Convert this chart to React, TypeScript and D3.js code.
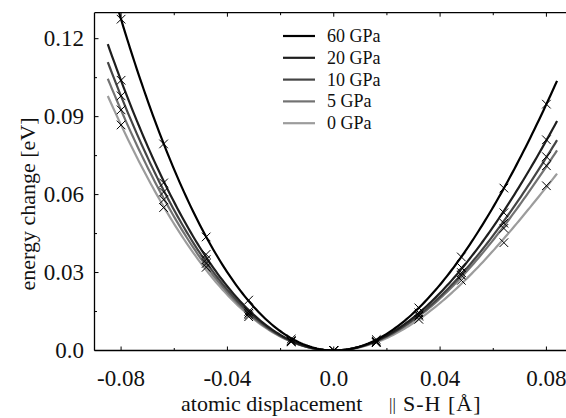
import React from "react";
import * as d3 from "d3";

const displacements = [-0.08, -0.064, -0.048, -0.032, -0.016, 0, 0.016, 0.032, 0.048, 0.064, 0.08];
const seriesNames = ["60 GPa", "20 GPa", "10 GPa", "5 GPa", "0 GPa"];
const e60 = [0.1275, 0.0795, 0.0437, 0.0194, 0.0044, 0, 0.0042, 0.0164, 0.036, 0.0625, 0.0948];
const e20 = [0.104, 0.0645, 0.037, 0.015, 0.0038, 0, 0.0036, 0.0145, 0.032, 0.053, 0.0811];
const e10 = [0.098, 0.061, 0.035, 0.0143, 0.0036, 0, 0.0034, 0.0137, 0.03, 0.049, 0.0746];
const e5 = [0.0926, 0.058, 0.0335, 0.0137, 0.0035, 0, 0.0032, 0.0132, 0.029, 0.047, 0.0711];
const e0 = [0.0868, 0.055, 0.032, 0.013, 0.0033, 0, 0.003, 0.012, 0.027, 0.0415, 0.0634];
const seriesValues = [e60, e20, e10, e5, e0];
const seriesColors = ["#000000", "#1e1e1e", "#454545", "#727272", "#9c9c9c"];
const xTicks = [-0.08, -0.04, 0.0, 0.04, 0.08];
const xTickLabels = ["-0.08", "-0.04", "0.0", "0.04", "0.08"];
const xMinor = [-0.06, -0.02, 0.02, 0.06];
const yTicks = [0, 0.03, 0.06, 0.09, 0.12];
const yTickLabels = ["0.0", "0.03", "0.06", "0.09", "0.12"];
const yMinor = [0.015, 0.045, 0.075, 0.105];
const fitRange = [-0.085, 0.084];

// least-squares polynomial fit (degree 4) of the measured points
function polyFit(xs: number[], ys: number[], deg: number) {
  const s = 0.08;
  const n = deg + 1;
  const A: number[][] = Array.from({ length: n }, () => new Array(n + 1).fill(0));
  xs.forEach((x0, k) => {
    const xv = x0 / s;
    for (let i = 0; i < n; i++) {
      for (let j = 0; j < n; j++) A[i][j] += Math.pow(xv, i + j);
      A[i][n] += Math.pow(xv, i) * ys[k];
    }
  });
  for (let c = 0; c < n; c++) {
    let p = c;
    for (let r = c + 1; r < n; r++) if (Math.abs(A[r][c]) > Math.abs(A[p][c])) p = r;
    [A[c], A[p]] = [A[p], A[c]];
    for (let r = 0; r < n; r++) {
      if (r === c) continue;
      const f = A[r][c] / A[c][c];
      for (let k = c; k <= n; k++) A[r][k] -= f * A[c][k];
    }
  }
  const coef = A.map((row, i) => row[n] / A[i][i]);
  return (x0: number) => {
    const xv = x0 / s;
    let v = 0;
    for (let i = 0; i < n; i++) v += coef[i] * Math.pow(xv, i);
    return v;
  };
}

export default function App() {
  const W = 566, H = 418;
  const left = 94.5, right = 573, top = 12.7, bottom = 350.5;
  const x = d3.scaleLinear().domain([-0.09, 0.09]).range([left, right]);
  const y = d3.scaleLinear().domain([0, 0.13]).range([bottom, top]);
  const font = "'Liberation Serif', 'DejaVu Serif', serif";

  const samples = d3.range(0, 201).map((i) => fitRange[0] + (fitRange[1] - fitRange[0]) * i / 200);
  const line = d3.line<[number, number]>().x((d) => x(d[0])).y((d) => y(d[1]));

  const curves = seriesValues.map((vals) => {
    const f = polyFit(displacements, vals, 4);
    return line(samples.map((s) => [s, f(s)] as [number, number])) || "";
  });

  const legendX = 283, legendY = 36, legendDy = 21.8;

  return (
    <svg width={W} height={H} style={{ position: "absolute", left: 0, top: 0, background: "#fff" }}>
      <defs>
        <clipPath id="plotclip">
          <rect x={left} y={top} width={right - left} height={bottom - top} />
        </clipPath>
      </defs>
      <g clipPath="url(#plotclip)">
        {curves.map((d, i) => (
          <path key={i} d={d} fill="none" stroke={seriesColors[i]} strokeWidth={2.2} />
        )).reverse()}
        {seriesValues.map((vals, si) =>
          vals.map((v, k) => {
            const cx = x(displacements[k]), cy = y(v), r = 4.3;
            return (
              <path key={`m${si}-${k}`} d={`M${cx - r},${cy - r}L${cx + r},${cy + r}M${cx - r},${cy + r}L${cx + r},${cy - r}`}
                stroke="#000" strokeWidth={1} fill="none" />
            );
          })
        )}
      </g>
      <g stroke="#000" strokeWidth={1.3} fill="none">
        <line x1={left} y1={top} x2={left} y2={bottom} />
        <line x1={left} y1={bottom} x2={right} y2={bottom} />
        <line x1={left} y1={top} x2={right} y2={top} />
      </g>
      <g stroke="#000" strokeWidth={1}>
        {xTicks.map((t) => (
          <g key={`xt${t}`}>
            <line x1={x(t)} x2={x(t)} y1={bottom} y2={bottom - 4} />
            <line x1={x(t)} x2={x(t)} y1={top} y2={top + 4} />
          </g>
        ))}
        {xMinor.map((t) => (
          <g key={`xm${t}`}>
            <line x1={x(t)} x2={x(t)} y1={bottom} y2={bottom - 2.5} />
            <line x1={x(t)} x2={x(t)} y1={top} y2={top + 2.5} />
          </g>
        ))}
        {yTicks.map((t) => (
          <line key={`yt${t}`} x1={left} x2={left + 4} y1={y(t)} y2={y(t)} />
        ))}
        {yMinor.map((t) => (
          <line key={`ym${t}`} x1={left} x2={left + 2.5} y1={y(t)} y2={y(t)} />
        ))}
      </g>
      <g fontFamily={font} fontSize={23} fill="#111">
        {xTicks.map((t, i) => (
          <text key={`xl${t}`} x={x(t)} y={bottom + 35} textAnchor="middle">{xTickLabels[i]}</text>
        ))}
        {yTicks.map((t, i) => (
          <text key={`yl${t}`} x={84} y={y(t) + 7.5} textAnchor="end">{yTickLabels[i]}</text>
        ))}
        <text x={181} y={411} fontSize={22}>
          atomic displacement
          <tspan x={389} fontSize={17} dy={-1}>||</tspan>
          <tspan x={403} dy={1} fontSize={22} letterSpacing={1}>S-H [Å]</tspan>
        </text>
        <text transform={`translate(35, ${204}) rotate(-90)`} textAnchor="middle" fontSize={22}>energy change [eV]</text>
      </g>
      <g fontFamily={font} fontSize={18} fill="#111">
        {seriesNames.map((n, i) => (
          <g key={n}>
            <line x1={legendX} x2={legendX + 32} y1={legendY + i * legendDy} y2={legendY + i * legendDy}
              stroke={seriesColors[i]} strokeWidth={2.2} />
            <text x={legendX + 44} y={legendY + i * legendDy + 6}>{n}</text>
          </g>
        ))}
      </g>
    </svg>
  );
}
